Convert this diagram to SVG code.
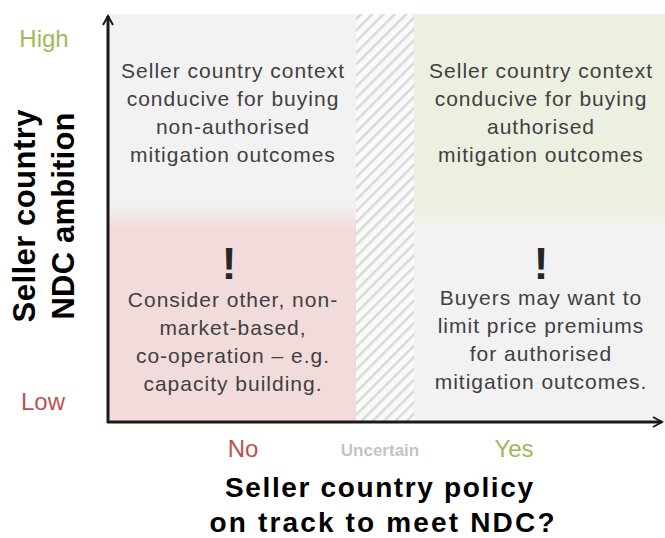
<svg xmlns="http://www.w3.org/2000/svg" width="665" height="538" viewBox="0 0 665 538">
<defs>
<pattern id="hatch" patternUnits="userSpaceOnUse" width="8" height="8" patternTransform="rotate(45)">
<rect width="8" height="8" fill="#fafafa"/>
<rect x="0" y="0" width="2.5" height="8" fill="#d9d9d9"/>
</pattern>
<linearGradient id="gl" x1="0" y1="0" x2="0" y2="1">
<stop offset="0" stop-color="#f2f2f2"/>
<stop offset="1" stop-color="#f2dcdb"/>
</linearGradient>
<linearGradient id="gr" x1="0" y1="0" x2="0" y2="1">
<stop offset="0" stop-color="#ebf0e0"/>
<stop offset="1" stop-color="#f2f2f2"/>
</linearGradient>
<marker id="arr" viewBox="0 0 12 12" refX="10" refY="6" markerWidth="12" markerHeight="12" markerUnits="userSpaceOnUse" orient="auto">
<path d="M1,1 L10,6 L1,11" fill="none" stroke="#1a1a1a" stroke-width="2"/>
</marker>
</defs>
<style>
.box{font-family:"Liberation Sans",Arial,sans-serif;font-size:21px;letter-spacing:1px;fill:#404040;text-anchor:middle}
.ex{font-family:"Liberation Sans",Arial,sans-serif;font-size:44px;font-weight:bold;fill:#262626;text-anchor:middle}
.ttl{font-family:"Liberation Sans",Arial,sans-serif;font-size:28px;font-weight:bold;fill:#000;text-anchor:middle}
.yt{font-family:"Liberation Sans",Arial,sans-serif;font-size:31px;font-weight:bold;fill:#000;text-anchor:middle}
.lbl{font-family:"Liberation Sans",Arial,sans-serif;font-size:24px;text-anchor:middle}
</style>
<rect width="665" height="538" fill="#fff"/>
<g id="quadrants">
<rect x="108" y="14" width="248" height="190" fill="#f2f2f2"/>
<rect x="108" y="204" width="248" height="24" fill="url(#gl)"/>
<rect x="108" y="228" width="248" height="194" fill="#f2dcdb"/>
<rect x="414" y="14" width="251" height="190" fill="#ebf0e0"/>
<rect x="414" y="204" width="251" height="24" fill="url(#gr)"/>
<rect x="414" y="228" width="251" height="194" fill="#f2f2f2"/>
<rect x="356" y="14" width="58" height="408" fill="url(#hatch)"/>
</g>
<g id="node-top-left">
<text class="box" x="233" y="78">Seller country context</text>
<text class="box" x="233" y="106">conducive for buying</text>
<text class="box" x="233" y="134">non-authorised</text>
<text class="box" x="233" y="162">mitigation outcomes</text>
</g>
<g id="node-top-right">
<text class="box" x="541" y="78">Seller country context</text>
<text class="box" x="541" y="106">conducive for buying</text>
<text class="box" x="541" y="134">authorised</text>
<text class="box" x="541" y="162">mitigation outcomes</text>
</g>
<g id="node-bottom-left">
<text class="ex" x="229" y="279">!</text>
<text class="box" x="233" y="307">Consider other, non-</text>
<text class="box" x="233" y="335">market-based,</text>
<text class="box" x="233" y="363">co-operation – e.g.</text>
<text class="box" x="233" y="391">capacity building.</text>
</g>
<g id="node-bottom-right">
<text class="ex" x="541" y="279">!</text>
<text class="box" x="541" y="305">Buyers may want to</text>
<text class="box" x="541" y="333">limit price premiums</text>
<text class="box" x="541" y="361">for authorised</text>
<text class="box" x="541" y="389">mitigation outcomes.</text>
</g>
<g id="connectors">
<line x1="108" y1="423" x2="108" y2="16" stroke="#1a1a1a" stroke-width="3" marker-end="url(#arr)"/>
<line x1="107" y1="422" x2="662" y2="422" stroke="#1a1a1a" stroke-width="3" marker-end="url(#arr)"/>
</g>
<g id="axis-labels">
<text class="lbl" x="44" y="47" font-size="26" fill="#9bbb59">High</text>
<text class="lbl" x="43" y="410" font-size="26" fill="#c0504d">Low</text>
<text class="lbl" x="243" y="457" fill="#c0504d">No</text>
<text x="380" y="456" font-family="Liberation Sans, Arial, sans-serif" font-size="17" font-weight="bold" fill="#c4c4c4" text-anchor="middle">Uncertain</text>
<text class="lbl" x="514" y="457" fill="#9bbb59">Yes</text>
<text class="ttl" x="379" y="497" textLength="308" lengthAdjust="spacing">Seller country policy</text>
<text class="ttl" x="382" y="532" textLength="345" lengthAdjust="spacing">on track to meet NDC?</text>
<g transform="translate(0,216) rotate(-90)">
<text class="yt" x="0" y="35" textLength="213" lengthAdjust="spacing">Seller country</text>
<text class="yt" x="0" y="74" textLength="207" lengthAdjust="spacing">NDC ambition</text>
</g>
</g>
</svg>
